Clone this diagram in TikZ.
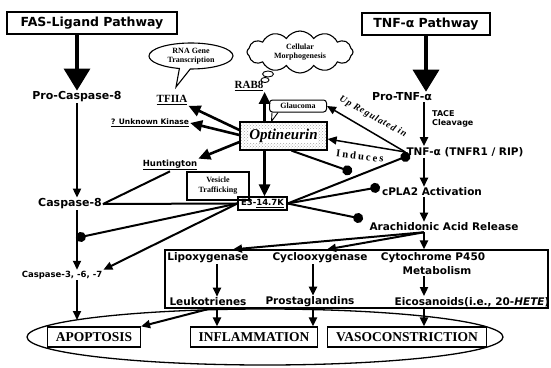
\documentclass[tikz,border=0pt]{standalone}
\usepackage{fontspec}
\setmainfont{DejaVu Sans}
\newfontfamily\rmb{Liberation Serif}
\usetikzlibrary{arrows.meta,shapes.geometric,shapes.symbols,shapes.callouts,patterns,calc}
\begin{document}
\begin{tikzpicture}[x=1pt,y=-1pt,
  every node/.style={inner sep=1pt},
  lab/.style={font=\bfseries\fontsize{#1}{#1}\selectfont},
  rml/.style={font=\rmb\bfseries\fontsize{#1}{#1}\selectfont, align=center},
  pathway/.style={draw, line width=1.6pt, minimum height=22pt,
    font=\bfseries\fontsize{12.5}{13}\selectfont},
  outcome/.style={draw, fill=white, line width=1.2pt, minimum height=20pt,
    font=\rmb\bfseries\fontsize{13.5}{14}\selectfont},
  conn/.style={line width=2pt},
  arr/.style={conn, -{Triangle[length=9pt,width=8pt]}},
  bigarr/.style={line width=2.6pt, -{Triangle[length=12pt,width=11pt]}},
  fatarr/.style={line width=3.5pt, -{Triangle[length=22pt,width=26pt]}},
  inh/.style={conn, -{Circle[length=10pt]}},
]
\useasboundingbox (0,0) rectangle (551,367);

% ---------- pathway headers ----------
\node[pathway, minimum width=170pt] (fas) at (92,23) {FAS-Ligand Pathway};
\node[pathway, minimum width=128pt] (tnf) at (426,24) {TNF-α Pathway};

% ---------- FAS (left) column ----------
\node[lab=11] (procasp8) at (77,97) {Pro-Caspase-8};
\node[lab=11] (casp8) at (70,204) {Caspase-8};
\node[lab=8.5] (casp3) at (62,275) {Caspase-3, -6, -7};

% ---------- TNF (right) column ----------
\coordinate (tcol) at (424,0);
\node[lab=11] (protnf) at (402,97) {Pro-TNF-α};
\node[lab=8, anchor=west, align=left] (tace) at (431,119) {TACE\\[1pt]Cleavage};
\node[lab=10.5] (tnfa) at (465,152) {TNF-α (TNFR1 / RIP)};
\node[lab=10.5] (cpla) at (432,192) {cPLA2 Activation};
\node[lab=10.5] (aa) at (444,227) {Arachidonic Acid Release};

% ---------- eicosanoid branches ----------
\node[draw, line width=1.2pt, minimum width=383pt, minimum height=58pt] (enz) at (356.5,279) {};
\node[lab=10.5] (lipo) at (208,258) {Lipoxygenase};
\node[lab=10.5] (leuko) at (208,302) {Leukotrienes};
\node[lab=10.5] (cox) at (320,258) {Cyclooxygenase};
\node[lab=10.5] (pg) at (310,302) {Prostaglandins};
\node[lab=10.5] (cyp) at (433,258) {Cytochrome P450};
\node[lab=10.5] (metab) at (437,271) {Metabolism};
\node[lab=10.5] (eico) at (472,302) {Eicosanoids(i.e., 20-\textit{HETE})};

% ---------- outcomes ----------
\node[ellipse, draw, line width=1.3pt, minimum width=476pt, minimum height=56pt] (lens) at (265,337) {};
\node[outcome, minimum width=93pt] (apop) at (94,337) {APOPTOSIS};
\node[outcome, minimum width=127pt] (infl) at (254,337) {INFLAMMATION};
\node[outcome, minimum width=159pt] (vaso) at (407,337) {VASOCONSTRICTION};

% ---------- optineurin hub ----------
\node[draw, line width=1.3pt, minimum width=87pt, minimum height=28pt,
  pattern=crosshatch dots, pattern color=black!35] (opt) at (283.5,136) {};
\node[font=\rmb\bfseries\itshape\fontsize{15}{15}\selectfont, fill=white, inner sep=0.5pt] (optlbl) at (opt) {Optineurin};

\node[draw, line width=1pt, rounded corners=3pt, minimum width=57pt, minimum height=12pt,
  inner sep=0.5pt, rml=8] (glauc) at (298,106) {Glaucoma};
\node[rml=11] (tfiia) at (172,100) {\underline{TFIIA}};
\node[rml=11] (rab8) at (249,86) {\underline{RAB8}};
\node[lab=7.5] (kin) at (150,123) {\underline{? Unknown Kinase}};
\node[lab=8.5] (htt) at (170,165) {\underline{Huntington}};
\node[draw, line width=1.1pt, minimum width=62pt, minimum height=28pt,
  align=center, font=\rmb\bfseries\fontsize{8}{10}\selectfont] (ves) at (218,186) {Vesicle\\Trafficking};
\node[draw, line width=1.1pt, minimum width=49pt, minimum height=13pt,
  lab=8.5] (k147) at (262.5,203.5) {E3-\underline{14.7K}};

% callout bubbles
\node[ellipse callout, draw, line width=1.1pt, callout absolute pointer={(176,87)},
  minimum width=84pt, minimum height=26pt, inner sep=0pt,
  font=\rmb\bfseries\fontsize{8}{9.5}\selectfont, align=center] (rna) at (191,56) {RNA Gene\\Transcription};
\node[cloud, draw, line width=1.1pt, cloud puffs=12, cloud puff arc=115, aspect=2.5,
  minimum width=106pt, minimum height=42pt, inner sep=0pt,
  font=\rmb\bfseries\fontsize{8}{9.5}\selectfont, align=center] (cloud) at (300,52) {Cellular\\Morphogenesis};
\node[ellipse, draw, line width=0.9pt, minimum width=11pt, minimum height=6pt, inner sep=0pt] (puffA) at (268,74) {};
\node[ellipse, draw, line width=0.9pt, minimum width=8pt, minimum height=5pt, inner sep=0pt] (puffB) at (265,80) {};

% glaucoma callout tail
\draw[line width=0.9pt] ([xshift=3pt]glauc.south west) -- ([xshift=-12pt]opt.north)
  -- ([xshift=9pt]glauc.south west);

% ---------- main pathway arrows ----------
\draw[fatarr] (fas.south -| procasp8.north) -- (procasp8.north);
\draw[fatarr] (tnf.south) -- (tnf.south |- protnf.north);
\draw[arr] (procasp8.south) -- (procasp8.south |- casp8.north);
\draw[arr] (procasp8.south |- casp8.south) -- (procasp8.south |- casp3.north);
\coordinate (apEnd) at (77,320);
\draw[arr] (procasp8.south |- casp3.south) -- (apEnd);

\draw[arr] (protnf.south -| tcol) -- (tnfa.north -| tcol);
\draw[arr] (tnfa.south -| tcol) -- (cpla.north -| tcol);
\draw[arr] (cpla.south -| tcol) -- (aa.north -| tcol);
\coordinate (aaS) at (aa.south -| tcol);
\draw[arr] (aaS) -- (enz.north -| tcol);
\draw[arr] (aaS) -- (enz.north -| 233,0);
\draw[arr] (aaS) -- (enz.north -| 327,0);

\draw[arr] (lipo.south -| 217,0) -- (leuko.north -| 217,0);
\draw[arr] (cox.south -| 313,0) -- (pg.north -| 313,0);
\draw[arr] (metab.south -| tcol) -- (eico.north -| tcol);

\draw[arr] (enz.south -| 217,0) -- (infl.north -| 217,0);
\draw[arr] (enz.south -| 313,0) -- (infl.north -| 313,0);
\draw[arr] (enz.south -| tcol) -- (vaso.north -| tcol);
\draw[arr] (enz.south -| 210,0) -- (apop.north east);

% ---------- optineurin interactions ----------
\draw[bigarr] ([yshift=6pt]opt.west) -- (tfiia.south east);
\draw[bigarr] ([yshift=1pt]opt.west) -- (kin.east);
\draw[bigarr] ([yshift=-6pt]opt.west) -- (htt.north east);
\draw[bigarr] (opt.north -| rab8.east) -- (rab8.south -| rab8.east);
\draw[bigarr] ([xshift=-19pt]opt.south) -- ([xshift=2pt]k147.north);
\coordinate (dOpt) at (352,172);
\draw[inh] ([xshift=8pt]opt.south) -- (dOpt);

\draw[line width=1.5pt, -{Triangle[length=9pt,width=8pt]}] (tnfa.west) -- (glauc.east);
\draw[line width=1.5pt, -{Triangle[length=9pt,width=8pt]}] (tnfa.west) -- ([yshift=-3pt]opt.east);
\node[font=\rmb\bfseries\itshape\fontsize{9.5}{10}\selectfont, rotate=-29] (upreg) at (373,117)
  {\addfontfeature{LetterSpace=10}Up Regulated in};
\node[font=\rmb\bfseries\fontsize{10.5}{11}\selectfont, rotate=-7] (induces) at (360,156)
  {\addfontfeature{LetterSpace=20}Induces};

% ---------- E3-14.7K interactions ----------
\coordinate (dTnf) at (410,155);
\coordinate (dCpla) at (380,187);
\coordinate (dAa) at (363,219);
\coordinate (dCasp) at (76,238);
\draw[inh] (k147.east) -- (dTnf);
\draw[inh] (k147.east) -- (dCpla);
\draw[inh] (k147.east) -- (dAa);
\draw[conn] (k147.west) -- (casp8.east);
\draw[conn] (htt.south) -- (casp8.east);
\draw[inh] (k147.west) -- (dCasp);
\draw[arr] (k147.west) -- (casp3.north east);
\end{tikzpicture}
\end{document}
